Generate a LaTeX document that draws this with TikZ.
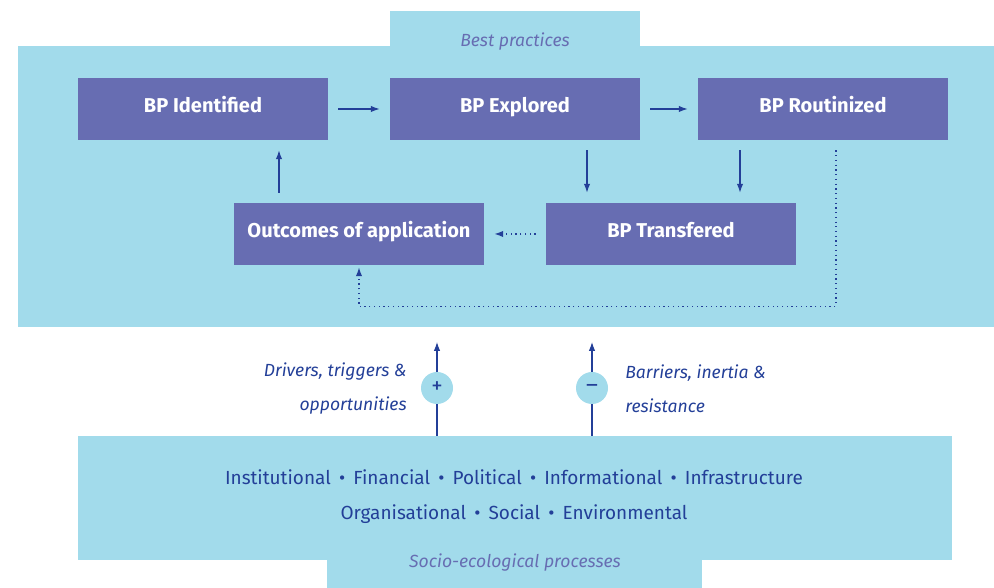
\documentclass[tikz,border=0pt]{standalone}
\usepackage{fontspec}
\setmainfont{Fira Sans}
\usepackage{xcolor}
\usetikzlibrary{arrows.meta, positioning, calc}

\definecolor{skyfill}{HTML}{A2DBEB}
\definecolor{bpfill}{HTML}{676DB2}
\definecolor{inkblue}{HTML}{233F98}

\tikzset{
  bpbox/.style={fill=bpfill, text=white, font=\bfseries\fontsize{11.4}{13}\selectfont,
    minimum width=5cm, minimum height=1.24cm, inner sep=0pt,
    text height=0.75em, text depth=0.35em},
  flow/.style={line width=0.6pt, inkblue, -{Latex[length=5pt,width=3.6pt]},
    shorten <=0.2cm, shorten >=0.2cm},
  dotflow/.style={line width=0.7pt, inkblue, dotted, -{Latex[length=5pt,width=3.6pt]}},
  sign/.style={circle, fill=skyfill, minimum size=0.64cm, inner sep=0pt,
    text=inkblue, font=\fontsize{13}{14}\selectfont},
  sidelabel/.style={text=inkblue, font=\itshape\fontsize{10}{19.4}\selectfont, inner sep=0pt},
  headlabel/.style={text=bpfill, font=\itshape\fontsize{10}{12}\selectfont, inner sep=0pt}
}

\begin{document}
\begin{tikzpicture}

\def\pw{19.88}
\def\ph{11.76}

\useasboundingbox (0,0) rectangle (\pw,\ph);

% panels
\fill[skyfill] (0.36,5.22) rectangle (\pw,10.84);
\fill[skyfill] (7.80,10.84) rectangle (12.80,11.54);
\fill[skyfill] (1.56,0.56) rectangle (19.04,3.04);
\fill[skyfill] (6.54,0) rectangle (14.04,0.56);

\node[headlabel] (bestpr) at (10.30,10.92) {Best practices};
\node[headlabel] (socio) at (10.30,0.50) {Socio-ecological processes};

% stages
\node[bpbox] (ident) at (4.06,9.58) {BP Identified};
\node[bpbox] (explor) at (10.30,9.58) {BP Explored};
\node[bpbox] (routin) at (16.46,9.58) {BP Routinized};
\node[bpbox] (outcom) at (7.18,7.08) {Outcomes of application};
\node[bpbox] (transf) at (13.42,7.08) {BP Transfered};

\draw[flow] (ident) -- (explor);
\draw[flow] (explor) -- (routin);
\draw[flow] ([xshift=1.44cm]explor.south) -- ([xshift=1.44cm]explor.south |- transf.north);
\draw[flow] ([xshift=-1.66cm]routin.south) -- ([xshift=-1.66cm]routin.south |- transf.north);
\draw[flow] ([xshift=-1.6cm]outcom.north) -- ([xshift=-1.6cm]outcom.north |- ident.south);

\draw[dotflow, shorten <=0.2cm, shorten >=0.2cm] (transf) -- (outcom);
\coordinate (loopr) at ($(routin.south)+(0.26,-3.32)$);
\draw[dotflow, shorten <=0.2cm, shorten >=0.04cm]
  ([xshift=0.26cm]routin.south) -- (loopr) -- (loopr -| outcom.south) -- (outcom.south);

% influences from below
\coordinate (plusfoot) at (8.74,3.04);
\coordinate (minusfoot) at (11.84,3.04);
\draw[flow, shorten <=0pt, shorten >=0pt] (plusfoot) -- ++(0,1.88);
\draw[flow, shorten <=0pt, shorten >=0pt] (minusfoot) -- ++(0,1.88);
\node[sign] (plus) at (8.74,4.0) {+};
\node[sign] (minus) at (11.84,4.0) {--};

\node[sidelabel, align=right, anchor=east] (drivers) at (8.14,3.98)
  {Drivers, triggers \&\\opportunities};
\node[sidelabel, align=left, anchor=west] (barriers) at (12.50,3.98)
  {Barriers, inertia \&\\resistance};

\node[text=inkblue, font=\fontsize{10.8}{20}\selectfont, align=center] (factors) at (10.28,1.83)
  {Institutional \,•\, Financial \,•\, Political \,•\, Informational \,•\, Infrastructure\\
   Organisational \,•\, Social \,•\, Environmental};

\end{tikzpicture}
\end{document}
